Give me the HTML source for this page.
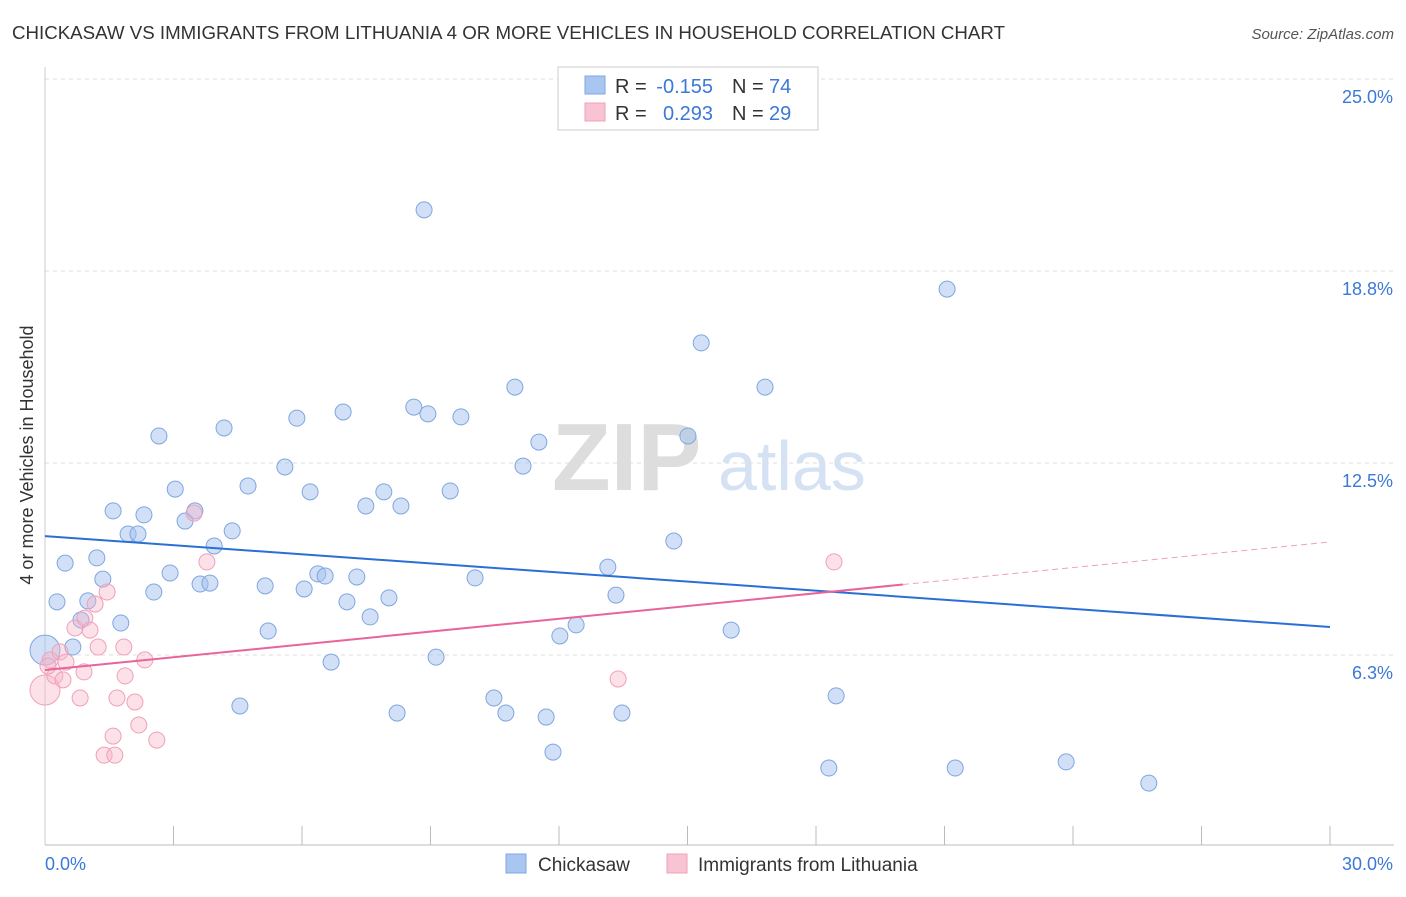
<!DOCTYPE html>
<html><head><meta charset="utf-8"><style>
body{margin:0;background:#fff;font-family:"Liberation Sans",sans-serif}
svg text{font-family:"Liberation Sans",sans-serif}
</style></head><body>
<svg id="c" width="1406" height="892">
<text x="12" y="39" font-size="18" fill="#333" textLength="993" lengthAdjust="spacingAndGlyphs">CHICKASAW VS IMMIGRANTS FROM LITHUANIA 4 OR MORE VEHICLES IN HOUSEHOLD CORRELATION CHART</text>
<text x="1394" y="39" font-size="15" fill="#555" font-style="italic" text-anchor="end">Source: ZipAtlas.com</text>
<text x="33" y="455" font-size="18" fill="#333" text-anchor="middle" transform="rotate(-90 33 455)">4 or more Vehicles in Household</text>
<g><text x="552" y="490" font-size="96" fill="#ddd" font-family="Liberation Serif" font-weight="bold">ZIP</text><text x="718" y="490" font-size="70" fill="#d5e2f3">atlas</text></g>
<g id="grid"></g><g id="marks"></g>
<g>
<rect x="558" y="67" width="260" height="63" fill="#fff" stroke="#ccc"/>
<rect x="585" y="76" width="20" height="18" fill="#a8c6f0" stroke="#7fa6e0"/>
<text x="615" y="93" font-size="20" fill="#333">R =</text>
<text x="713" y="93" font-size="20" fill="#3b78d8" text-anchor="end">-0.155</text>
<text x="732" y="93" font-size="20" fill="#333">N =</text>
<text x="769" y="93" font-size="20" fill="#3b78d8">74</text>
<rect x="585" y="103" width="20" height="18" fill="#f8c4d4" stroke="#f0a0b8"/>
<text x="615" y="120" font-size="20" fill="#333">R =</text>
<text x="713" y="120" font-size="20" fill="#3b78d8" text-anchor="end">0.293</text>
<text x="732" y="120" font-size="20" fill="#333">N =</text>
<text x="769" y="120" font-size="20" fill="#3b78d8">29</text>
</g>
<g>
<rect x="506" y="854" width="20" height="19" fill="#a8c6f0" stroke="#7fa6e0"/>
<text x="538" y="871" font-size="19" fill="#333">Chickasaw</text>
<rect x="667" y="854" width="20" height="19" fill="#f8c4d4" stroke="#f0a0b8"/>
<text x="698" y="871" font-size="19" fill="#333">Immigrants from Lithuania</text>
</g>
</svg>
<script>
const yTicks=[6.25,12.5,18.75,25];
const yTickLabels=["6.3%","12.5%","18.8%","25.0%"];
const xTickCount=10;
const blueX=[8.85,21.06,15.32,10.97,16.81,8.61,6.96,5.88,8.94,9.71,2.66,4.18,11.53,15.01,5.60,11.16,3.04,4.74,6.19,7.91,9.46,1.59,2.31,7.49,8.31,3.27,3.50,1.94,2.17,4.37,14.68,3.95,0.47,1.21,13.14,1.35,2.92,6.37,6.54,7.28,10.04,3.62,3.85,5.14,6.05,2.54,13.33,0.28,1.00,7.05,8.03,7.59,0.84,1.77,12.40,5.21,16.02,12.02,0.65,0,9.13,6.68,10.48,18.47,4.55,8.22,10.76,13.47,11.70,11.86,18.30,21.25,23.84,25.77];
const blueY=[20.74,18.16,16.41,14.97,14.97,14.32,14.16,13.96,14.10,14.00,13.38,13.64,13.18,13.38,12.37,12.40,11.65,11.75,11.56,11.56,11.59,10.94,10.81,11.10,11.10,10.61,10.94,10.19,10.19,10.29,9.96,9.80,9.24,9.41,9.11,8.72,8.92,8.89,8.82,8.79,8.76,8.56,8.59,8.50,8.40,8.30,8.20,7.98,8.01,7.98,8.11,7.49,7.39,7.29,7.23,7.03,7.06,6.87,6.51,6.41,6.18,6.02,4.85,4.92,4.59,4.36,4.36,4.36,4.23,3.09,2.57,2.57,2.77,2.08];
const pinkX=[0,0.12,0.35,0.49,0.23,0.42,0.70,0.93,1.17,1.05,1.45,1.24,0.91,0.82,1.68,1.87,1.84,2.33,2.10,2.19,1.59,1.38,1.63,2.61,3.78,3.48,18.42,13.38,0.07];
const pinkY=[5.11,6.09,6.35,6.02,5.57,5.44,7.13,7.45,7.91,7.06,8.30,6.51,5.70,4.85,4.85,5.57,6.51,6.09,4.72,3.97,3.61,2.99,2.99,3.48,9.28,10.87,9.28,5.47,5.89];
const blueTrend=[10.12,7.16];
const pinkTrend=[5.76,9.93];
const pinkSolidEnd=20.03;
const X0=45,X1=1330,Y0=847,PPY=192/6.25;
const sx=v=>X0+(X1-X0)*v/30, sy=v=>Y0-v*PPY;
const NS="http://www.w3.org/2000/svg";
function mk(p,t,a){const e=document.createElementNS(NS,t);for(const k in a)e.setAttribute(k,a[k]);p.appendChild(e);return e;}
const g=document.getElementById('grid'),m=document.getElementById('marks');
yTicks.forEach((t,i)=>{
 const l=mk(g,'line',{x1:45,x2:1394,y1:sy(t),y2:sy(t),stroke:'#ddd','stroke-dasharray':'4 4'});
 
 
 const tx=mk(g,'text',{x:1393,y:sy(t)+24,'font-size':18,fill:'#3b78d8','text-anchor':'end'});
 tx.textContent=yTickLabels[i];
 
 
});
const ax=mk(g,'line',{x1:45,x2:1394,y1:845,y2:845,stroke:'#bbb'});


const ay=mk(g,'line',{x1:45,x2:45,y1:67,y2:845,stroke:'#ccc'});


for(let i=1;i<=xTickCount;i++){const t=mk(g,'line',{x1:sx(i*3),x2:sx(i*3),y1:826,y2:845,stroke:'#bbb'});
 
 }
[[45,'0.0%','start'],[1393,'30.0%','end']].forEach(([x,s,a])=>{const t=mk(g,'text',{x:x,y:870,'font-size':18,fill:'#3b78d8','text-anchor':a});t.textContent=s;
 
 });
blueX.forEach((v,i)=>{const c=mk(m,'circle',{cx:sx(v),cy:sy(blueY[i]),r:v===0?15:8,fill:'rgba(164,194,240,0.5)',stroke:'#7fa6e0','stroke-width':1});
 
 });
pinkX.forEach((v,i)=>{const c=mk(m,'circle',{cx:sx(v),cy:sy(pinkY[i]),r:v===0?15:8,fill:'rgba(248,180,200,0.4)',stroke:'#f0a0b8','stroke-width':1});
 
 });
const bl=mk(m,'line',{x1:sx(0),y1:sy(blueTrend[0]),x2:sx(30),y2:sy(blueTrend[1]),stroke:'#2a6fd6','stroke-width':2});


const pe=pinkTrend[0]+(pinkTrend[1]-pinkTrend[0])*pinkSolidEnd/30;
const pl=mk(m,'line',{x1:sx(0),y1:sy(pinkTrend[0]),x2:sx(pinkSolidEnd),y2:sy(pe),stroke:'#e8649a','stroke-width':2});


const pd=mk(m,'line',{x1:sx(pinkSolidEnd),y1:sy(pe),x2:sx(30),y2:sy(pinkTrend[1]),stroke:'#f0a0b8','stroke-width':1,'stroke-dasharray':'6 4'});


</script>
</body></html>
